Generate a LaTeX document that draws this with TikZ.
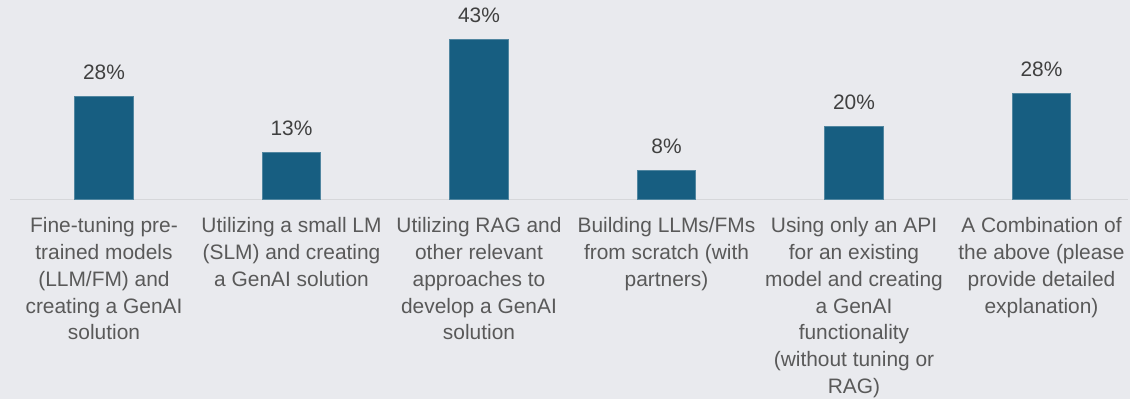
\documentclass[tikz,border=0pt]{standalone}
\usepackage{fontspec}
\setmainfont{Liberation Sans}
\usetikzlibrary{positioning}
\definecolor{bggray}{HTML}{E9EAEE}
\definecolor{barblue}{HTML}{175E81}
\definecolor{pctgray}{HTML}{404040}
\definecolor{labelgray}{HTML}{595959}
\definecolor{axisgray}{HTML}{D6D7DA}
\tikzset{
    x=0.02cm, y=0.02cm, % one unit is one pixel of the reference
    barnode/.style={ % a bar, standing on its base coordinate
        rectangle,
        fill=barblue,
        draw=barblue!75!white,
        line width=0.3pt,
        inner sep=0pt,
        anchor=south,
        minimum width=1.17cm,
        minimum height=#1*0.02cm
    },
    pct/.style={ % value above a bar
        inner sep=0pt,
        text=pctgray,
        font=\fontsize{11.9}{14}\selectfont
    },
    cat/.style={ % category text under the axis
        inner sep=0pt,
        align=center,
        text=labelgray,
        font=\fontsize{11.9}{15.2}\selectfont
    },
    axisline/.style={draw=axisgray, line width=0.85pt}
}
\begin{document}
\begin{tikzpicture}
        \fill[bggray] (0,0) rectangle (1130,399);
        \useasboundingbox (0,0) rectangle (1130,399);
        % axis
        \coordinate (axl) at (10,199.5);
        \coordinate (axr) at (1128,199.5);
        \draw[axisline] (axl) -- (axr);
        % base of each bar
        \coordinate (base1) at (104,199.5);
        \coordinate (base2) at (291.5,199.5);
        \coordinate (base3) at (479,199.5);
        \coordinate (base4) at (666.5,199.5);
        \coordinate (base5) at (854,199.5);
        \coordinate (base6) at (1041.5,199.5);
        % bars
        \node[barnode=102.5]    (bar1)  at (base1) {};
        \node[barnode=46.5]     (bar2)  at (base2) {};
        \node[barnode=160.2]    (bar3)  at (base3) {};
        \node[barnode=28.8]     (bar4)  at (base4) {};
        \node[barnode=72.8]     (bar5)  at (base5) {};
        \node[barnode=105.5]    (bar6)  at (base6) {};
        % values
        \node[pct, above=0.32cm of bar1]    (pct1)  {28\%};
        \node[pct, above=0.32cm of bar2]    (pct2)  {13\%};
        \node[pct, above=0.32cm of bar3]    (pct3)  {43\%};
        \node[pct, above=0.32cm of bar4]    (pct4)  {8\%};
        \node[pct, above=0.32cm of bar5]    (pct5)  {20\%};
        \node[pct, above=0.32cm of bar6]    (pct6)  {28\%};
        % categories
        \node[cat, below=0.36cm of base1]   (cat1)  {Fine-tuning pre-\\trained models\\(LLM/FM) and\\creating a GenAI\\solution};
        \node[cat, below=0.36cm of base2]   (cat2)  {Utilizing a small LM\\(SLM) and creating\\a GenAI solution};
        \node[cat, below=0.36cm of base3]   (cat3)  {Utilizing RAG and\\other relevant\\approaches to\\develop a GenAI\\solution};
        \node[cat, below=0.36cm of base4]   (cat4)  {Building LLMs/FMs\\from scratch (with\\partners)};
        \node[cat, below=0.36cm of base5]   (cat5)  {Using only an API\\for an existing\\model and creating\\a GenAI\\functionality\\(without tuning or\\RAG)};
        \node[cat, below=0.36cm of base6]   (cat6)  {A Combination of\\the above (please\\provide detailed\\explanation)};
\end{tikzpicture}
\end{document}
